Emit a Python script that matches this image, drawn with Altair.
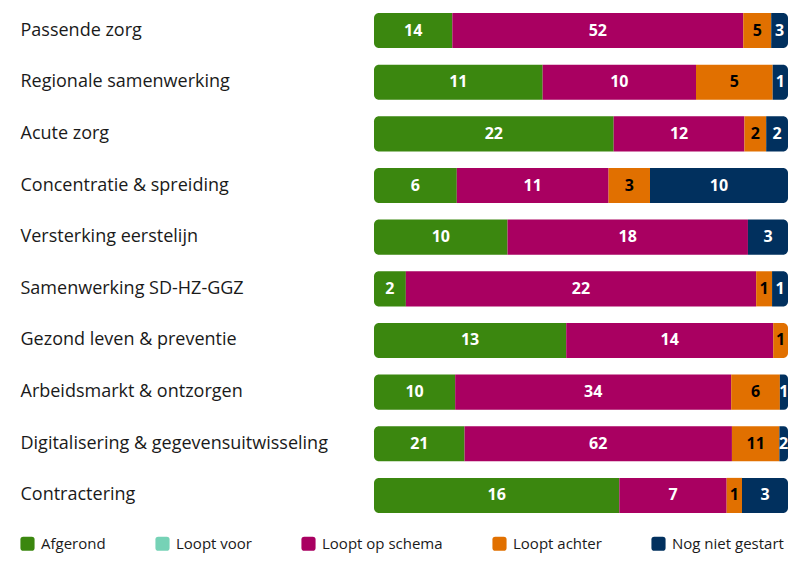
import altair as alt
import pandas as pd

tasks = ["Passende zorg", "Regionale samenwerking", "Acute zorg", "Concentratie & spreiding",
         "Versterking eerstelijn", "Samenwerking SD-HZ-GGZ", "Gezond leven & preventie",
         "Arbeidsmarkt & ontzorgen", "Digitalisering & gegevensuitwisseling", "Contractering"]
statuses = ["Afgerond", "Loopt voor", "Loopt op schema", "Loopt achter", "Nog niet gestart"]
colors = ["#3b870f", "#76d2b6", "#a90061", "#e17000", "#01305e"]
text_colors = ["white", "white", "white", "black", "white"]

afgerond = [14, 11, 22, 6, 10, 2, 13, 10, 21, 16]
loopt_voor = [0, 0, 0, 0, 0, 0, 0, 0, 0, 0]
op_schema = [52, 10, 12, 11, 18, 22, 14, 34, 62, 7]
achter = [5, 5, 2, 3, 0, 1, 1, 6, 11, 1]
niet_gestart = [3, 1, 2, 10, 3, 1, 0, 1, 2, 3]

series = [afgerond, loopt_voor, op_schema, achter, niet_gestart]
rows = []
for si, (s, vals) in enumerate(zip(statuses, series)):
    for t, v in zip(tasks, vals):
        if v > 0:
            rows.append({"task": t, "status": s, "order": si, "value": v})
df = pd.DataFrame(rows)

FONT = "Open Sans"

base = alt.Chart(df).transform_stack(
    stack="value", groupby=["task"], sort=[alt.SortField("order")],
    as_=["x0", "x1"], offset="normalize"
).transform_calculate(mid="(datum.x0 + datum.x1) / 2")

y = alt.Y("task:N", sort=tasks, title=None,
          scale=alt.Scale(paddingInner=0.32, paddingOuter=0),
          axis=alt.Axis(labelAlign="left", labelPadding=354, ticks=False, domain=False,
                        labelFontSize=18, labelColor="#1a1a1a", labelFont=FONT,
                        labelLimit=400))

R = 5
bars = base.mark_bar(
    cornerRadiusTopLeft=alt.expr(f"datum.x0 <= 0.0001 ? {R} : 0"),
    cornerRadiusBottomLeft=alt.expr(f"datum.x0 <= 0.0001 ? {R} : 0"),
    cornerRadiusTopRight=alt.expr(f"datum.x1 >= 0.9999 ? {R} : 0"),
    cornerRadiusBottomRight=alt.expr(f"datum.x1 >= 0.9999 ? {R} : 0"),
).encode(
    x=alt.X("x0:Q", axis=None, scale=alt.Scale(domain=[0, 1], nice=False, zero=True)),
    x2="x1:Q",
    y=y,
    color=alt.Color("status:N", scale=alt.Scale(domain=statuses, range=colors),
                    legend=alt.Legend(orient="none", legendX=-354, legendY=523,
                                      direction="horizontal", columns=5, title=None,
                                      labelFontSize=15, labelFont=FONT, labelColor="#1a1a1a",
                                      symbolType="M -0.6 -1 L 0.6 -1 Q 1 -1 1 -0.6 L 1 0.6 Q 1 1 0.6 1 L -0.6 1 Q -1 1 -1 0.6 L -1 -0.6 Q -1 -1 -0.6 -1 Z",
                                      symbolSize=200, symbolStrokeWidth=0, labelOffset=6,
                                      columnPadding=49)),
)

labels = base.mark_text(font=FONT, fontSize=16, fontWeight="bold").encode(
    x=alt.X("mid:Q"),
    y=alt.Y("task:N", sort=tasks),
    text="value:Q",
    color=alt.Color("status:N", scale=alt.Scale(domain=statuses, range=text_colors), legend=None),
)

chart = alt.layer(bars, labels).resolve_scale(color="independent").properties(
    width=414, height=500,
    autosize=alt.AutoSizeParams(type="none"),
    padding={"left": 366, "top": 5, "right": 0, "bottom": 40},
).configure_view(stroke=None)

chart.save("out.html", embed_options={"renderer": "svg", "actions": False})
